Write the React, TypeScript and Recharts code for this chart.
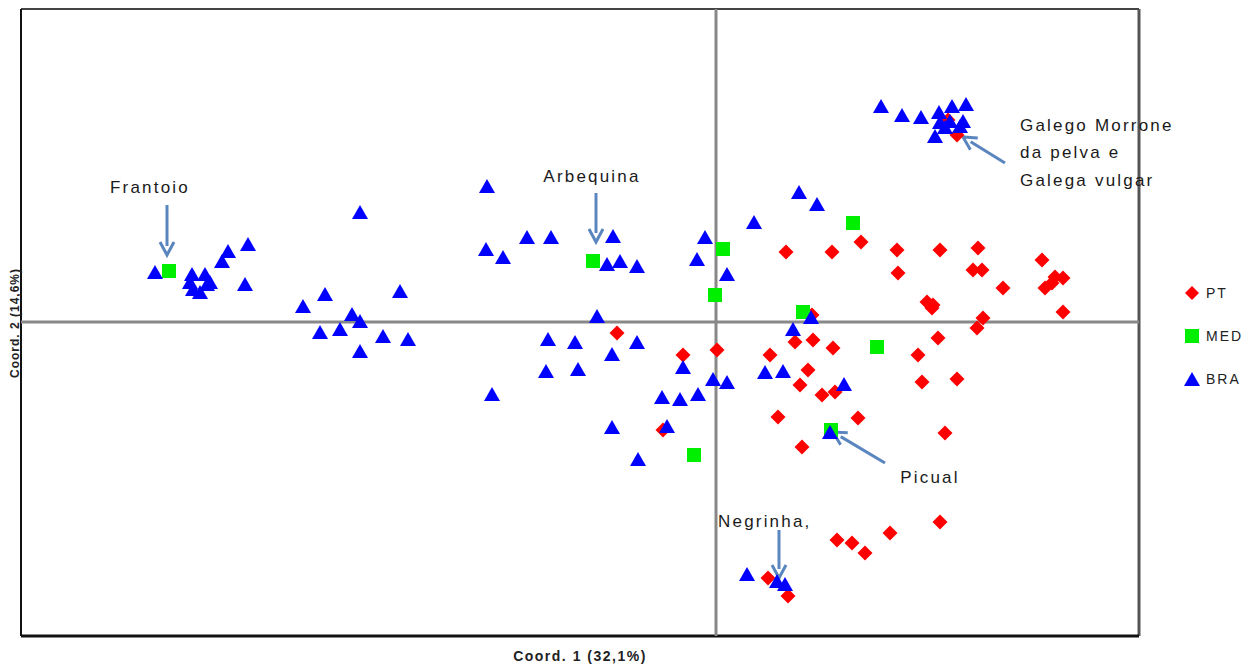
import React from 'react'
import { ScatterChart, Scatter, XAxis, YAxis, ReferenceLine, ReferenceDot, Legend } from 'recharts'

// PCoA coordinates (Coord. 1, Coord. 2)
const ptX = [-0.099, -0.033, 0.001, -0.053, 0.145, 0.070, 0.116, 0.181, 0.224, 0.262, 0.326, 0.182, 0.257, 0.266, 0.339, 0.347, 0.336, 0.329, 0.287, 0.211, 0.217, 0.216, 0.347, 0.096, 0.267, 0.261, 0.079, 0.097, 0.117, 0.222, 0.054, 0.202, 0.092, 0.084, 0.106, 0.119, 0.241, 0.206, 0.062, 0.142, 0.086, 0.229, 0.224, 0.174, 0.121, 0.136, 0.149, 0.052, 0.072, 0.241, 0.232]
const ptY = [-0.011, -0.033, -0.028, -0.108, 0.080, 0.070, 0.070, 0.072, 0.072, 0.074, 0.062, 0.049, 0.052, 0.052, 0.045, 0.044, 0.039, 0.034, 0.034, 0.020, 0.017, 0.014, 0.010, 0.007, 0.004, -0.006, -0.020, -0.018, -0.026, -0.016, -0.033, -0.033, -0.048, -0.063, -0.073, -0.070, -0.057, -0.060, -0.095, -0.096, -0.125, -0.111, -0.200, -0.211, -0.218, -0.221, -0.231, -0.256, -0.274, 0.187, 0.202]

const medX = [-0.547, -0.123, 0.007, -0.001, 0.137, 0.087, 0.161, -0.022, 0.115]
const medY = [0.051, 0.061, 0.073, 0.027, 0.099, 0.010, -0.025, -0.133, -0.108]

const braX = [0.165, 0.186, 0.205, 0.223, 0.236, 0.250, 0.234, 0.247, 0.219, 0.229, 0.244, 0.224,
  -0.561, -0.524, -0.511, -0.506, -0.523, -0.516, -0.526, -0.509, -0.494, -0.488, -0.468, -0.471, -0.356, -0.391, -0.413, -0.364, -0.356, -0.376, -0.396, -0.333, -0.308, -0.356, -0.316,
  -0.229, -0.189, -0.165, -0.103, -0.011, -0.230, -0.213, -0.109, -0.096, -0.079, -0.019, 0.011, -0.119, -0.168, -0.141, -0.104, -0.079, -0.170, -0.138, -0.033, -0.003, 0.011, -0.224, -0.054, -0.036, -0.018, -0.104, -0.049, -0.078,
  0.083, 0.101, 0.038, 0.077, 0.095, 0.049, 0.067, 0.128, 0.114, 0.031, 0.061, 0.069]
const braY = [0.215, 0.206, 0.204, 0.209, 0.215, 0.217, 0.200, 0.200, 0.185, 0.194, 0.195, 0.199,
  0.049, 0.047, 0.047, 0.039, 0.032, 0.029, 0.039, 0.037, 0.060, 0.070, 0.077, 0.037, 0.109, 0.027, 0.015, 0.007, 0.000, -0.008, -0.011, -0.015, -0.018, -0.030, 0.030,
  0.135, 0.084, 0.084, 0.085, 0.084, 0.072, 0.064, 0.057, 0.060, 0.055, 0.062, 0.047, 0.005, -0.018, -0.021, -0.033, -0.021, -0.050, -0.048, -0.046, -0.058, -0.061, -0.073, -0.076, -0.078, -0.073, -0.106, -0.105, -0.138,
  0.129, 0.117, 0.099, -0.008, 0.004, -0.051, -0.050, -0.063, -0.111, -0.253, -0.260, -0.263]

const groups = ['PT', 'MED', 'BRA']
const colors = ['#ff0000', '#00ee00', '#0000ff']

const xDomain = [-0.695, 0.423]
const yDomain = [-0.314, 0.313]

// cultivar labels and arrows
const labelText = ['Frantoio', 'Arbequina', 'Galego Morrone', 'da pelva e', 'Galega vulgar', 'Picual', 'Negrinha,']
const labelX = [-0.566, -0.124, 0.304, 0.304, 0.304, 0.214, 0.002]
const labelY = [0.135, 0.146, 0.197, 0.170, 0.142, -0.155, -0.199]
const labelAnchor = ['middle', 'middle', 'start', 'start', 'start', 'middle', 'start']

const arrowFrom = [[-0.549, 0.117], [-0.120, 0.129], [0.289, 0.159], [0.169, -0.141], [0.063, -0.208]]
const arrowTo = [[-0.549, 0.067], [-0.120, 0.080], [0.247, 0.185], [0.117, -0.110], [0.063, -0.256]]

const toRows = (xs: number[], ys: number[]) => xs.map((x, i) => ({ x, y: ys[i] }))
const ptData = toRows(ptX, ptY)
const medData = toRows(medX, medY)
const braData = toRows(braX, braY)

const FONT = '"Liberation Sans", Arial, sans-serif'

const Diamond = (p: any) => {
  const { cx, cy } = p
  return <polygon points={`${cx},${cy - 7.5} ${cx + 7.5},${cy} ${cx},${cy + 7.5} ${cx - 7.5},${cy}`} fill={colors[0]} />
}
const Square = (p: any) => <rect x={p.cx - 7} y={p.cy - 7} width={14} height={14} fill={colors[1]} />
const Triangle = (p: any) => {
  const { cx, cy } = p
  return <polygon points={`${cx},${cy - 8} ${cx + 8},${cy + 6} ${cx - 8},${cy + 6}`} fill={colors[2]} />
}

const Arrow = (p: any) => {
  const { x1, y1, x2, y2 } = p
  const a = Math.atan2(y2 - y1, x2 - x1)
  const L = 13, W = 7
  const bx = x2 - L * Math.cos(a), by = y2 - L * Math.sin(a)
  const px = -Math.sin(a) * W, py = Math.cos(a) * W
  return (
    <g>
      <line x1={x1} y1={y1} x2={bx + Math.cos(a) * 4} y2={by + Math.sin(a) * 4} stroke="#5a86bf" strokeWidth={3} />
      <polyline points={`${bx + px},${by + py} ${x2},${y2} ${bx - px},${by - py}`} fill="none" stroke="#5a86bf" strokeWidth={3} />
    </g>
  )
}

const LegendBox = () => (
  <div style={{ fontFamily: FONT, fontSize: 14, color: '#222' }}>
    {groups.map((g, i) => (
      <div key={g} style={{ height: 43, display: 'flex', alignItems: 'center' }}>
        <svg width={20} height={16}>
          {i === 0 && <polygon points="8,1 15,8 8,15 1,8" fill={colors[0]} />}
          {i === 1 && <rect x={1} y={1} width={14} height={14} fill={colors[1]} />}
          {i === 2 && <polygon points="8,1 16,15 0,15" fill={colors[2]} />}
        </svg>
        <span style={{ marginLeft: 2, letterSpacing: 2 }}>{g}</span>
      </div>
    ))}
  </div>
)

export default function App() {
  return (
    <div style={{ position: 'fixed', left: 0, top: 0, width: 1253, height: 666, background: '#fff' }}>
      <ScatterChart width={1253} height={666} margin={{ top: 9, right: 114, bottom: 30, left: 21 }}>
        <XAxis type="number" dataKey="x" domain={xDomain} hide />
        <YAxis type="number" dataKey="y" domain={yDomain} hide />
        <ReferenceLine y={yDomain[1]} stroke="#444" strokeWidth={2} />
        <ReferenceLine x={xDomain[0]} stroke="#111" strokeWidth={2} />
        <ReferenceLine x={xDomain[1]} stroke="#555" strokeWidth={3} />
        <ReferenceLine y={yDomain[0]} stroke="#111" strokeWidth={3} />
        <ReferenceLine x={0} stroke="#888" strokeWidth={3} />
        <ReferenceLine y={0} stroke="#888" strokeWidth={3} />
        <Scatter name="PT" data={ptData} shape={Diamond} isAnimationActive={false} />
        <Scatter name="MED" data={medData} shape={Square} isAnimationActive={false} />
        <Scatter name="BRA" data={braData} shape={Triangle} isAnimationActive={false} />
        {arrowFrom.map((f, i) => (
          <ReferenceLine key={'a' + i} segment={[{ x: f[0], y: f[1] }, { x: arrowTo[i][0], y: arrowTo[i][1] }]} shape={Arrow} />
        ))}
        {labelText.map((t, i) => (
          <ReferenceDot key={'l' + i} x={labelX[i]} y={labelY[i]} r={0}
            shape={(p: any) => (
              <text x={p.cx} y={p.cy} dy={6} textAnchor={labelAnchor[i]} fontFamily={FONT} fontSize={17} letterSpacing={2.2} fill="#1a1a1a">{t}</text>
            )} />
        ))}
        <Legend layout="vertical" align="center" verticalAlign="middle" content={LegendBox}
          wrapperStyle={{ position: 'absolute', left: 1184, top: 271, width: 69, height: 130 }} />
      </ScatterChart>
      <div style={{ position: 'absolute', left: 0, top: 648, width: 1160, textAlign: 'center', fontFamily: FONT, fontSize: 14, fontWeight: 'bold', letterSpacing: 1.5, color: '#222' }}>
        Coord. 1 (32,1%)
      </div>
      <div style={{ position: 'absolute', left: 15, top: 323, transform: 'translate(-50%, -50%) rotate(-90deg)', whiteSpace: 'nowrap', fontFamily: FONT, fontSize: 12, fontWeight: 'bold', letterSpacing: 1, color: '#222' }}>
        Coord. 2 (14,6%)
      </div>
    </div>
  )
}
